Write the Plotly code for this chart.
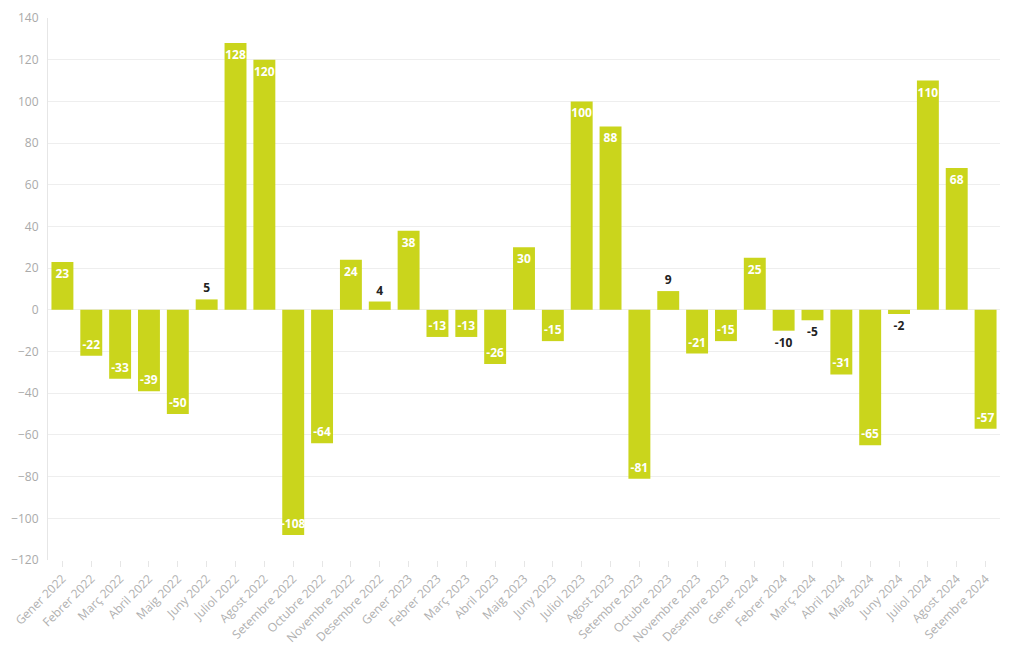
import plotly.graph_objects as go

months = ["Gener 2022", "Febrer 2022", "Març 2022", "Abril 2022", "Maig 2022", "Juny 2022",
          "Juliol 2022", "Agost 2022", "Setembre 2022", "Octubre 2022", "Novembre 2022", "Desembre 2022",
          "Gener 2023", "Febrer 2023", "Març 2023", "Abril 2023", "Maig 2023", "Juny 2023",
          "Juliol 2023", "Agost 2023", "Setembre 2023", "Octubre 2023", "Novembre 2023", "Desembre 2023",
          "Gener 2024", "Febrer 2024", "Març 2024", "Abril 2024", "Maig 2024", "Juny 2024",
          "Juliol 2024", "Agost 2024", "Setembre 2024"]
values = [23, -22, -33, -39, -50, 5, 128, 120, -108, -64, 24, 4,
          38, -13, -13, -26, 30, -15, 100, 88, -81, 9, -21, -15,
          25, -10, -5, -31, -65, -2, 110, 68, -57]

positions = ["inside" if abs(v) >= 13 else "outside" for v in values]
text_colors = ["#ffffff" if abs(v) >= 13 else "#222222" for v in values]

fig = go.Figure(go.Bar(
    x=months, y=values,
    marker=dict(color="#cad51c", line=dict(width=0)),
    text=[str(v) for v in values],
    textposition=positions,
    insidetextanchor="end",
    textangle=0,
    textfont=dict(family="Open Sans", size=12, color=text_colors, weight="bold"),
    cliponaxis=False,
    hoverinfo="x+y",
))

fig.update_layout(
    width=1020, height=650,
    margin=dict(l=48, r=20, t=18, b=90),
    paper_bgcolor="white", plot_bgcolor="white",
    bargap=0.24,
    showlegend=False,
    uniformtext=dict(minsize=12, mode="show"),
    font=dict(family="Open Sans", color="#aaaaaa", size=12),
)
fig.update_xaxes(
    tickangle=-45, tickfont=dict(size=12, color="#b0b0b0"),
    showline=False, showgrid=False, automargin=False,
    ticks="outside", ticklen=6, tickcolor="#e6e6e6",
    zeroline=False,
)
fig.update_yaxes(
    range=[-120, 140], dtick=20, automargin=False,
    tickfont=dict(size=12, color="#aaaaaa"),
    showgrid=True, gridcolor="#eeeeee", gridwidth=1,
    zeroline=False, showline=True, linecolor="#e6e6e6", linewidth=1,
    ticks="", ticklabelstandoff=6,
)

fig.write_html("out.html")
